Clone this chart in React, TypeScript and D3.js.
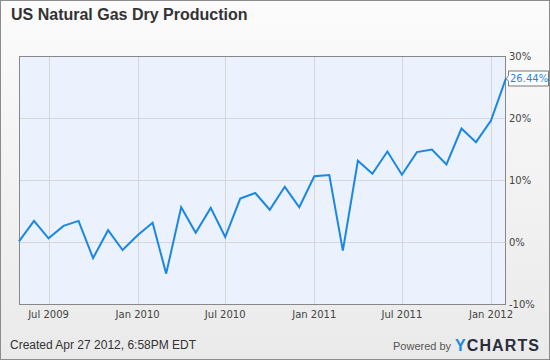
import { useEffect, useRef } from "react"
import * as d3 from "d3"

const months = [
  "2009-05", "2009-06", "2009-07", "2009-08", "2009-09", "2009-10", "2009-11", "2009-12",
  "2010-01", "2010-02", "2010-03", "2010-04", "2010-05", "2010-06", "2010-07", "2010-08",
  "2010-09", "2010-10", "2010-11", "2010-12", "2011-01", "2011-02", "2011-03", "2011-04",
  "2011-05", "2011-06", "2011-07", "2011-08", "2011-09", "2011-10", "2011-11", "2011-12",
  "2012-01", "2012-02",
]

const growth = [
  0.1, 3.4, 0.6, 2.6, 3.4, -2.6, 1.9, -1.3, 1.1, 3.1, -5.1, 5.6, 1.5, 5.5, 0.8, 7.0,
  7.9, 5.2, 8.9, 5.6, 10.6, 10.8, -1.4, 13.1, 11.0, 14.6, 10.85, 14.5, 14.9, 12.5, 18.3, 16.1,
  19.6, 26.44,
]

const xTickDates = ["2009-07", "2010-01", "2010-07", "2011-01", "2011-07", "2012-01"]
const xTickLabels = ["Jul 2009", "Jan 2010", "Jul 2010", "Jan 2011", "Jul 2011", "Jan 2012"]
const yTicks = [-10, 0, 10, 20, 30]

const W = 550
const H = 360
const LINE = "#1a87e3"
const AXIS_FONT = "'DejaVu Sans', sans-serif"
const SANS = "'Liberation Sans', Arial, sans-serif"

export default function App() {
  const ref = useRef<SVGSVGElement>(null)

  useEffect(() => {
    const parse = d3.timeParse("%Y-%m")
    const svg = d3.select(ref.current)
    svg.selectAll("*").remove()

    const plot = { left: 19, right: 506, top: 56, bottom: 304 }
    const dates = months.map((m) => parse(m) as Date)
    const data = dates.map((d, i) => ({ date: d, value: growth[i] }))

    const x = d3.scaleTime().domain([dates[0], dates[dates.length - 1]]).range([plot.left, plot.right])
    const y = d3.scaleLinear().domain([-10, 30]).range([plot.bottom, plot.top])

    // fond
    const defs = svg.append("defs")
    const grad = defs.append("linearGradient").attr("id", "bg").attr("x1", 0).attr("y1", 0).attr("x2", 0).attr("y2", 1)
    grad.append("stop").attr("offset", "0%").attr("stop-color", "#fbfbfb")
    grad.append("stop").attr("offset", "100%").attr("stop-color", "#eaeaea")

    svg.append("rect")
      .attr("x", 0.5).attr("y", 0.5).attr("width", W - 1).attr("height", H - 1)
      .attr("fill", "url(#bg)").attr("stroke", "#8c8c8c")

    svg.append("text")
      .attr("x", 11).attr("y", 20)
      .attr("font-family", SANS).attr("font-weight", "bold").attr("font-size", 16)
      .attr("fill", "#333")
      .text("US Natural Gas Dry Production")

    // zone du graphe
    svg.append("rect")
      .attr("x", plot.left).attr("y", plot.top)
      .attr("width", plot.right - plot.left).attr("height", plot.bottom - plot.top)
      .attr("fill", "#ebf2fd")

    const grid = svg.append("g").attr("stroke", "#d6d6d6").attr("stroke-width", 1)
    yTicks.forEach((t) => {
      const yy = Math.round(y(t)) + 0.5
      grid.append("line").attr("x1", plot.left).attr("x2", plot.right).attr("y1", yy).attr("y2", yy)
    })
    xTickDates.forEach((t) => {
      const xx = Math.round(x(parse(t) as Date)) + 0.5
      grid.append("line").attr("x1", xx).attr("x2", xx).attr("y1", plot.top).attr("y2", plot.bottom)
    })

    svg.append("rect")
      .attr("x", plot.left + 0.5).attr("y", plot.top + 0.5)
      .attr("width", plot.right - plot.left - 1).attr("height", plot.bottom - plot.top)
      .attr("fill", "none").attr("stroke", "#888")

    // axes
    svg.append("g")
      .selectAll("text")
      .data(yTicks)
      .enter()
      .append("text")
      .attr("x", 509)
      .attr("y", (d) => y(d))
      .attr("dy", "0.35em")
      .attr("font-family", AXIS_FONT).attr("font-size", 10)
      .attr("fill", "#444")
      .text((d) => `${d}%`)

    svg.append("g")
      .selectAll("text")
      .data(xTickDates)
      .enter()
      .append("text")
      .attr("x", (d) => x(parse(d) as Date))
      .attr("y", 318)
      .attr("text-anchor", "middle")
      .attr("font-family", AXIS_FONT).attr("font-size", 10)
      .attr("fill", "#444")
      .text((_, i) => xTickLabels[i])

    // ligne
    const line = d3.line<{ date: Date; value: number }>()
      .x((d) => x(d.date))
      .y((d) => y(d.value))

    svg.append("path")
      .datum(data)
      .attr("d", line)
      .attr("fill", "none")
      .attr("stroke", LINE)
      .attr("stroke-width", 2)
      .attr("stroke-linejoin", "miter")

    // étiquette dernière valeur
    const last = data[data.length - 1]
    const ly = Math.round(y(last.value)) + 0.5
    const lx = x(last.date)
    svg.append("path")
      .attr("d", `M${lx + 0.5},${ly} L${lx + 2.5},${ly - 3} L${lx + 2.5},${ly - 7.5} L${W - 1.5},${ly - 7.5} L${W - 1.5},${ly + 7.5} L${lx + 2.5},${ly + 7.5} L${lx + 2.5},${ly + 3} Z`)
      .attr("fill", "#fff")
      .attr("stroke", "#777")
    svg.append("text")
      .attr("x", lx + 4).attr("y", ly).attr("dy", "0.35em")
      .attr("font-family", AXIS_FONT).attr("font-size", 10)
      .attr("fill", LINE)
      .text(`${last.value.toFixed(2)}%`)

    // pied
    svg.append("text")
      .attr("x", 10).attr("y", 349)
      .attr("font-family", SANS).attr("font-size", 12)
      .attr("fill", "#333")
      .text("Created Apr 27 2012, 6:58PM EDT")

    svg.append("text")
      .attr("x", 393).attr("y", 350)
      .attr("font-family", SANS).attr("font-size", 11)
      .attr("fill", "#555")
      .text("Powered by")

    const logo = svg.append("text")
      .attr("x", 455).attr("y", 351)
      .attr("font-family", SANS).attr("font-weight", "bold").attr("font-size", 16)
      .attr("letter-spacing", 1.1)
    logo.append("tspan").attr("fill", "#1a87e3").text("Y")
    logo.append("tspan").attr("fill", "#2a2d3a").text("CHARTS")
  }, [])

  return (
    <svg
      ref={ref}
      width={W}
      height={H}
      style={{ position: "absolute", left: 0, top: 0, display: "block" }}
    />
  )
}
